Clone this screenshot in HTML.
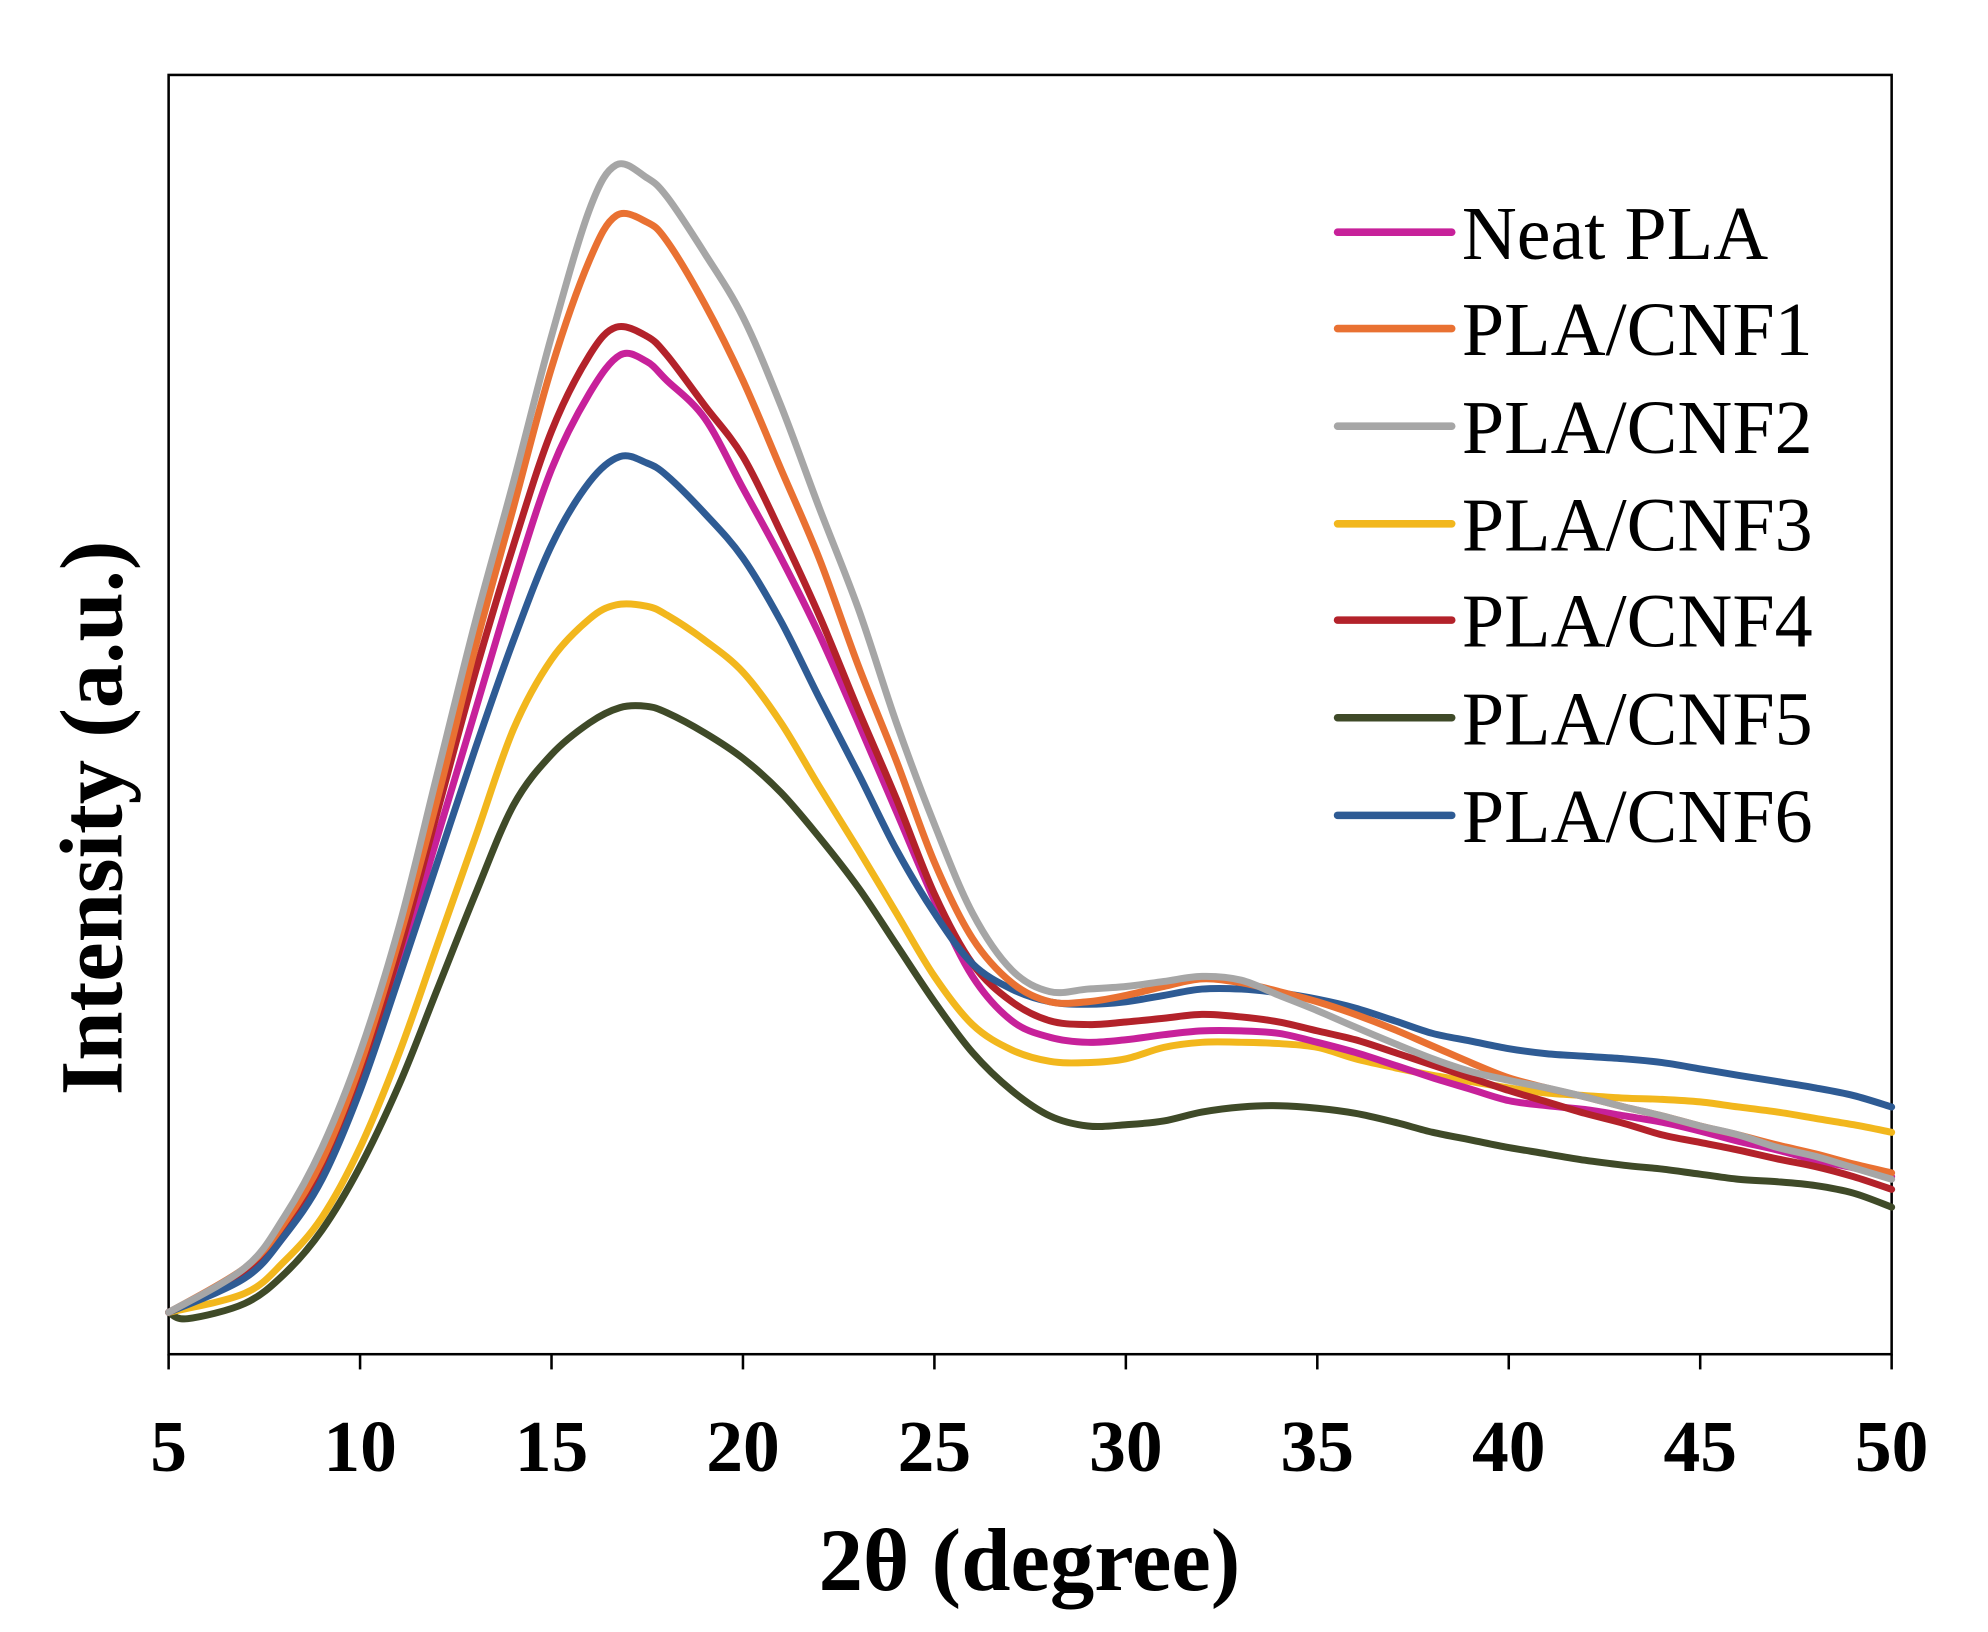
<!DOCTYPE html>
<html><head><meta charset="utf-8"><style>
html,body{margin:0;padding:0;background:#fff}
svg{display:block}
</style></head><body>
<svg id="s" width="1988" height="1632" viewBox="0 0 1568 1287" xmlns="http://www.w3.org/2000/svg" font-family="'Liberation Serif', serif">
<rect x="0" y="0" width="1568" height="1287" fill="#fff"/>
<rect x="133" y="59" width="1359" height="1009" fill="none" stroke="#000" stroke-width="2"/>
<g stroke="#000" stroke-width="2">
<line x1="133" y1="1068" x2="133" y2="1080"/><line x1="284" y1="1068" x2="284" y2="1080"/><line x1="435" y1="1068" x2="435" y2="1080"/><line x1="586" y1="1068" x2="586" y2="1080"/><line x1="737" y1="1068" x2="737" y2="1080"/><line x1="888" y1="1068" x2="888" y2="1080"/><line x1="1039" y1="1068" x2="1039" y2="1080"/><line x1="1190" y1="1068" x2="1190" y2="1080"/><line x1="1341" y1="1068" x2="1341" y2="1080"/><line x1="1492" y1="1068" x2="1492" y2="1080"/>
</g>
<g font-size="58" font-weight="bold" text-anchor="middle">
<text x="133" y="1160">5</text><text x="284" y="1160">10</text><text x="435" y="1160">15</text><text x="586" y="1160">20</text><text x="737" y="1160">25</text><text x="888" y="1160">30</text><text x="1039" y="1160">35</text><text x="1190" y="1160">40</text><text x="1341" y="1160">45</text><text x="1492" y="1160">50</text>
</g>
<text x="812" y="1254" font-size="70" font-weight="bold" text-anchor="middle">2θ (degree)</text>
<text transform="translate(96,645) rotate(-90)" font-size="70" font-weight="bold" text-anchor="middle">Intensity (a.u.)</text>
<g fill="none" stroke-width="5.5" stroke-linejoin="round" stroke-linecap="round">
<polyline stroke="#3f4a28" points="133,1035 148,1040 193,1028 224,1005 254,970 284,920 315,855 345,780 375,705 405,635 435,595 465,570 489,558 510,557 526,562 556,578 586,598 616,625 646,660 677,700 707,745 737,790 767,830 798,860 828,880 858,888 888,887 918,884 948,877 979,873 1009,872 1039,874 1069,878 1100,885 1130,893 1160,899 1190,905 1220,910 1250,915 1281,919 1311,922 1341,926 1371,930 1402,932 1432,935 1462,941 1492,952"/>
<polyline stroke="#f2b71d" points="133,1035 193,1020 224,995 254,960 284,905 315,830 345,745 375,660 405,575 435,520 465,488 486,477 510,478 526,485 556,505 586,530 616,570 646,620 677,670 707,720 737,770 767,808 798,828 828,837 858,838 888,835 918,826 948,822 979,822 1009,823 1039,826 1069,835 1100,842 1130,848 1160,853 1190,858 1220,862 1250,864 1281,866 1311,867 1341,869 1371,873 1402,877 1432,882 1462,887 1492,893"/>
<polyline stroke="#c7219a" points="133,1035 193,1005 224,975 254,925 284,855 315,760 345,660 375,560 405,460 435,370 465,310 489,280 510,285 526,300 556,330 586,385 616,440 646,500 677,570 707,640 737,710 767,770 798,805 828,818 858,822 888,820 918,816 948,813 979,813 1009,815 1039,822 1069,830 1100,840 1130,850 1160,859 1190,868 1220,872 1250,875 1281,880 1311,885 1341,892 1371,900 1402,907 1432,915 1462,921 1492,928"/>
<polyline stroke="#b3222a" points="133,1035 193,1003 224,970 254,920 284,845 315,750 345,640 375,530 405,430 435,340 465,280 486,258 510,265 526,280 556,320 586,360 616,420 646,485 677,560 707,630 737,705 767,760 798,790 828,805 858,808 888,806 918,803 948,800 979,802 1009,806 1039,813 1069,820 1100,830 1130,840 1160,850 1190,860 1220,869 1250,878 1281,886 1311,895 1341,901 1371,907 1402,914 1432,920 1462,928 1492,938"/>
<polyline stroke="#2e5b94" points="133,1035 193,1008 224,975 254,930 284,860 315,770 345,680 375,590 405,505 435,430 465,380 489,360 510,365 526,375 556,405 586,440 616,490 646,550 677,610 707,670 737,720 767,760 798,780 828,790 858,792 888,790 918,785 948,780 979,780 1009,783 1039,788 1069,795 1100,805 1130,815 1160,821 1190,827 1220,831 1250,833 1281,835 1311,838 1341,843 1371,848 1402,853 1432,858 1462,864 1492,873"/>
<polyline stroke="#e97132" points="133,1035 193,1000 224,965 254,915 284,840 315,740 345,630 375,510 405,400 435,290 465,205 486,170 510,175 526,190 556,240 586,300 616,370 646,440 677,525 707,600 737,680 767,740 798,775 828,790 858,790 888,785 918,778 948,772 979,775 1009,782 1039,790 1069,800 1100,812 1130,825 1160,838 1190,850 1220,858 1250,865 1281,873 1311,880 1341,888 1371,895 1402,903 1432,910 1462,918 1492,925"/>
<polyline stroke="#a6a6a6" points="133,1035 193,1000 224,960 254,905 284,830 315,730 345,610 375,490 405,380 435,265 465,165 486,130 510,140 526,155 556,200 586,250 616,320 646,400 677,480 707,570 737,650 767,720 798,765 828,782 858,780 888,778 918,774 948,770 979,773 1009,785 1039,797 1069,810 1100,823 1130,835 1160,845 1190,852 1220,858 1250,865 1281,873 1311,880 1341,888 1371,895 1402,905 1432,912 1462,921 1492,930"/>
</g>
<g stroke-width="6" stroke-linecap="round">
<line x1="1055" y1="183" x2="1145" y2="183" stroke="#c7219a"/>
<line x1="1055" y1="259" x2="1145" y2="259" stroke="#e97132"/>
<line x1="1055" y1="336" x2="1145" y2="336" stroke="#a6a6a6"/>
<line x1="1055" y1="413" x2="1145" y2="413" stroke="#f2b71d"/>
<line x1="1055" y1="489" x2="1145" y2="489" stroke="#b3222a"/>
<line x1="1055" y1="566" x2="1145" y2="566" stroke="#3f4a28"/>
<line x1="1055" y1="643" x2="1145" y2="643" stroke="#2e5b94"/>
</g>
<g font-size="60">
<text x="1153" y="204">Neat PLA</text>
<text x="1153" y="280">PLA/CNF1</text>
<text x="1153" y="357">PLA/CNF2</text>
<text x="1153" y="434">PLA/CNF3</text>
<text x="1153" y="510">PLA/CNF4</text>
<text x="1153" y="587">PLA/CNF5</text>
<text x="1153" y="664">PLA/CNF6</text>
</g>
</svg>
<script>
document.querySelectorAll('polyline').forEach(function(pl){
  var p=pl.getAttribute('points').trim().split(/\s+/).map(function(s){var a=s.split(',');return [+a[0],+a[1]];});
  var d='M'+p[0][0]+','+p[0][1];
  for(var i=0;i<p.length-1;i++){
    var p0=p[i-1]||p[i],p1=p[i],p2=p[i+1],p3=p[i+2]||p2;
    var c1x=p1[0]+(p2[0]-p0[0])/6,c1y=p1[1]+(p2[1]-p0[1])/6;
    var c2x=p2[0]-(p3[0]-p1[0])/6,c2y=p2[1]-(p3[1]-p1[1])/6;
    d+=' C'+c1x.toFixed(1)+','+c1y.toFixed(1)+' '+c2x.toFixed(1)+','+c2y.toFixed(1)+' '+p2[0]+','+p2[1];
  }
  var path=document.createElementNS('http://www.w3.org/2000/svg','path');
  path.setAttribute('d',d);path.setAttribute('stroke',pl.getAttribute('stroke'));
  pl.parentNode.replaceChild(path,pl);
});
</script>
</body></html>
